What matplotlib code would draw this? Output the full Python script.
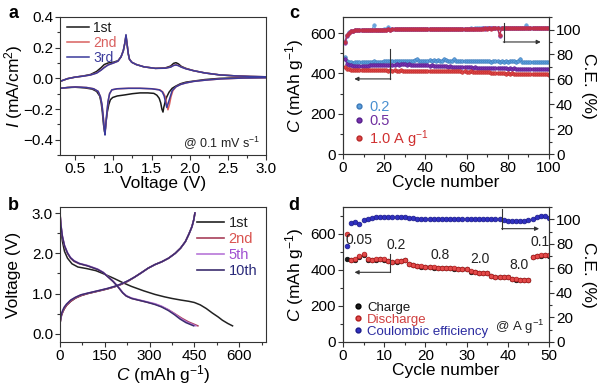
import matplotlib
matplotlib.use('Agg')
import matplotlib.pyplot as plt
from matplotlib.lines import Line2D
from matplotlib.ticker import MultipleLocator, FormatStrFormatter

plt.rcParams['font.family'] = ['Liberation Sans', 'DejaVu Sans']
plt.rcParams['mathtext.fontset'] = 'custom'
plt.rcParams['mathtext.rm'] = 'Liberation Sans'
plt.rcParams['mathtext.it'] = 'Liberation Sans:italic'
plt.rcParams['axes.linewidth'] = 0.8
plt.rcParams['axes.edgecolor'] = '#333333'

# ---------------- panel a: CV curves (cathodic sweep then anodic sweep) ----------------
cv1_v = [3.0, 2.7, 2.4, 2.2, 2.05, 1.95, 1.88, 1.82, 1.77, 1.73, 1.70, 1.68, 1.66, 1.65, 1.635,
         1.62, 1.60, 1.57, 1.53, 1.45, 1.35, 1.25, 1.15, 1.05, 0.99, 0.96, 0.94, 0.92, 0.905,
         0.895, 0.885, 0.87, 0.855, 0.84, 0.82, 0.78, 0.72, 0.62, 0.5, 0.4, 0.3, 0.25]
cv1_i = [0.006, 0.004, 0.0, -0.008, -0.018, -0.025, -0.035, -0.05, -0.065, -0.09, -0.12, -0.15,
         -0.19, -0.22, -0.2, -0.16, -0.13, -0.11, -0.098, -0.095, -0.095, -0.1, -0.108, -0.115,
         -0.125, -0.14, -0.17, -0.22, -0.28, -0.33, -0.35, -0.3, -0.22, -0.16, -0.115, -0.085,
         -0.07, -0.062, -0.058, -0.06, -0.065, -0.07]
cv2_v = [3.0, 2.7, 2.4, 2.2, 2.05, 1.95, 1.88, 1.82, 1.78, 1.755, 1.735, 1.715, 1.70, 1.68,
         1.65, 1.61, 1.5, 1.35, 1.2, 1.05, 0.98, 0.95, 0.93, 0.915, 0.90, 0.89, 0.88, 0.865, 0.85,
         0.83, 0.8, 0.74, 0.65, 0.5, 0.4, 0.3, 0.25]
cv2_i = [0.004, 0.002, -0.004, -0.012, -0.02, -0.03, -0.04, -0.055, -0.08, -0.12, -0.17, -0.205,
         -0.17, -0.12, -0.09, -0.075, -0.068, -0.065, -0.065, -0.068, -0.075, -0.1, -0.15, -0.22,
         -0.3, -0.36, -0.32, -0.24, -0.17, -0.12, -0.085, -0.068, -0.06, -0.056, -0.06, -0.065, -0.07]
cv3_v = [3.0, 2.7, 2.4, 2.2, 2.05, 1.95, 1.88, 1.82, 1.77, 1.745, 1.72, 1.70, 1.685, 1.665,
         1.64, 1.60, 1.5, 1.35, 1.2, 1.05, 0.98, 0.95, 0.93, 0.915, 0.90, 0.89, 0.88, 0.865, 0.85,
         0.83, 0.8, 0.74, 0.65, 0.5, 0.4, 0.3, 0.25]
cv3_i = [0.004, 0.002, -0.004, -0.012, -0.02, -0.03, -0.04, -0.055, -0.08, -0.12, -0.16, -0.19,
         -0.16, -0.115, -0.088, -0.075, -0.068, -0.065, -0.065, -0.068, -0.075, -0.1, -0.15, -0.22,
         -0.3, -0.37, -0.33, -0.24, -0.17, -0.12, -0.085, -0.068, -0.06, -0.056, -0.06, -0.065, -0.07]
an_v = [0.25, 0.3, 0.4, 0.5, 0.6, 0.7, 0.78, 0.84, 0.88, 0.93, 1.0, 1.06, 1.1, 1.13, 1.15, 1.165,
        1.18, 1.195, 1.21, 1.24, 1.3, 1.4, 1.55, 1.68, 1.75, 1.79, 1.82, 1.85, 1.89, 1.95, 2.05,
        2.2, 2.4, 2.6, 2.8, 3.0]
an1_i = [-0.03, -0.02, -0.002, 0.008, 0.015, 0.025, 0.045, 0.07, 0.09, 0.1, 0.105, 0.115, 0.14,
         0.18, 0.23, 0.275, 0.22, 0.16, 0.125, 0.105, 0.09, 0.075, 0.065, 0.068, 0.08, 0.098,
         0.102, 0.095, 0.078, 0.065, 0.05, 0.035, 0.022, 0.016, 0.012, 0.01]
an2_i = [-0.03, -0.02, -0.002, 0.008, 0.014, 0.022, 0.035, 0.055, 0.072, 0.088, 0.1, 0.112, 0.14,
         0.18, 0.23, 0.28, 0.22, 0.16, 0.125, 0.105, 0.09, 0.075, 0.065, 0.066, 0.074, 0.085,
         0.088, 0.084, 0.074, 0.063, 0.05, 0.035, 0.022, 0.016, 0.012, 0.01]
an3_i = [-0.03, -0.02, -0.002, 0.008, 0.014, 0.022, 0.034, 0.054, 0.07, 0.087, 0.1, 0.112, 0.14,
         0.18, 0.23, 0.285, 0.22, 0.16, 0.125, 0.105, 0.09, 0.075, 0.065, 0.066, 0.073, 0.084,
         0.087, 0.083, 0.073, 0.062, 0.05, 0.035, 0.022, 0.016, 0.012, 0.01]

# ---------------- panel b: charge/discharge profiles ----------------
b1_dis_c = [0, 3, 8, 15, 25, 40, 60, 90, 120, 150, 183, 211, 239, 280, 318, 350, 375, 405, 431,
            450, 470, 490, 510, 530, 544, 562, 578]
b1_dis_v = [3.0, 2.6, 2.3, 2.05, 1.88, 1.74, 1.66, 1.62, 1.57, 1.48, 1.37, 1.27, 1.18, 1.07, 0.98,
            0.92, 0.88, 0.84, 0.81, 0.78, 0.72, 0.63, 0.52, 0.42, 0.34, 0.26, 0.2]
b2_dis_c = [0, 3, 8, 15, 25, 35, 47, 65, 92, 126, 145, 160, 178, 194, 210, 222, 240, 262, 290,
            318, 340, 363, 385, 408, 430, 462]
b2_dis_v = [3.0, 2.7, 2.41, 2.18, 2.0, 1.88, 1.8, 1.74, 1.69, 1.6, 1.52, 1.42, 1.3, 1.17, 1.02,
            0.94, 0.88, 0.84, 0.79, 0.74, 0.68, 0.6, 0.5, 0.39, 0.3, 0.2]
b5_dis_c = [0, 3, 8, 15, 25, 35, 47, 65, 92, 126, 145, 160, 178, 194, 210, 222, 240, 262, 290,
            318, 340, 363, 385, 405, 426, 455]
b5_dis_v = [3.0, 2.72, 2.43, 2.2, 2.02, 1.9, 1.82, 1.75, 1.7, 1.61, 1.53, 1.43, 1.31, 1.18, 1.03,
            0.95, 0.89, 0.85, 0.8, 0.75, 0.69, 0.6, 0.49, 0.38, 0.29, 0.2]
b10_dis_c = [0, 3, 8, 15, 25, 35, 47, 65, 92, 126, 145, 160, 178, 194, 210, 222, 240, 262, 290,
             318, 340, 363, 383, 402, 422, 448]
b10_dis_v = [3.0, 2.7, 2.42, 2.19, 2.01, 1.89, 1.81, 1.745, 1.69, 1.6, 1.52, 1.42, 1.3, 1.17,
             1.02, 0.94, 0.88, 0.84, 0.79, 0.73, 0.67, 0.58, 0.48, 0.37, 0.28, 0.2]
b_ch_c = [0, 2, 5, 9, 14, 22, 36, 52, 70, 92, 115, 138, 160, 183, 205, 228, 250, 273, 295, 318,
          341, 364, 386, 404, 420, 432, 442, 448, 452]
b_ch_v = [0.25, 0.38, 0.5, 0.58, 0.66, 0.74, 0.84, 0.91, 0.97, 1.01, 1.05, 1.09, 1.13, 1.18, 1.24,
          1.32, 1.41, 1.52, 1.63, 1.72, 1.79, 1.88, 2.0, 2.13, 2.29, 2.48, 2.66, 2.83, 3.0]
b_ch2_v = [0.25, 0.35, 0.46, 0.54, 0.62, 0.71, 0.81, 0.89, 0.95, 1.0, 1.04, 1.08, 1.12, 1.17, 1.23,
           1.31, 1.41, 1.52, 1.63, 1.72, 1.79, 1.88, 2.0, 2.13, 2.29, 2.48, 2.66, 2.83, 3.0]

# ---------------- panel c: long cycling ----------------
cycles_c = list(range(1, 101))
cap_02 = [482, 462, 457, 455, 454, 455, 455, 456, 456, 457,
          456, 457, 458, 457, 460, 458, 458, 459, 459, 460,
          460, 462, 460, 461, 461, 462, 461, 462, 463, 462,
          463, 462, 463, 464, 465, 472, 464, 463, 464, 463,
          464, 465, 464, 465, 464, 465, 464, 463, 473, 465,
          464, 463, 464, 472, 462, 463, 464, 463, 462, 463,
          462, 461, 462, 461, 462, 461, 460, 461, 460, 461,
          460, 459, 460, 461, 460, 459, 460, 459, 460, 459,
          460, 461, 460, 459, 460, 470, 459, 458, 459, 458,
          459, 458, 457, 458, 457, 458, 457, 456, 457, 456]
cap_05 = [472, 448, 442, 440, 438, 438, 437, 438, 438, 439,
          439, 439, 440, 440, 441, 441, 440, 441, 442, 441,
          442, 443, 442, 443, 444, 445, 444, 445, 446, 445,
          444, 445, 444, 443, 444, 443, 442, 441, 442, 441,
          440, 439, 440, 438, 437, 438, 436, 437, 435, 436,
          434, 435, 434, 433, 434, 432, 433, 431, 432, 430,
          431, 430, 429, 430, 429, 428, 429, 428, 427, 428,
          427, 426, 427, 426, 425, 426, 425, 426, 425, 424,
          425, 424, 425, 424, 423, 424, 423, 424, 423, 422,
          423, 422, 423, 422, 421, 422, 421, 422, 421, 420]
cap_10 = [432, 423, 420, 419, 418, 418, 417, 418, 417, 417,
          416, 417, 416, 416, 415, 416, 415, 416, 415, 415,
          415, 414, 415, 414, 415, 414, 414, 415, 414, 414,
          413, 414, 413, 414, 413, 413, 412, 413, 412, 413,
          412, 413, 412, 412, 411, 412, 411, 412, 411, 411,
          411, 410, 411, 410, 410, 411, 410, 409, 410, 409,
          409, 410, 409, 408, 409, 408, 407, 408, 407, 406,
          405, 404, 403, 402, 401, 400, 401, 400, 399, 400,
          399, 400, 399, 398, 399, 398, 397, 398, 397, 398,
          397, 396, 397, 396, 395, 396, 395, 396, 395, 394]
ce_02 = [91, 96, 98, 98.8, 99.2, 99.4, 99.5, 99.6, 99.7, 99.7,
         99.8, 99.8, 99.9, 99.9, 103.5, 99.9, 100, 100, 100, 100.1,
         100.1, 102, 100.1, 100.2, 100.2, 100.2, 100.3, 100.2, 100.3, 100.3,
         100.3, 100.4, 100.3, 100.4, 100.4, 100.4, 100.5, 100.4, 100.5, 100.5,
         100.5, 100.5, 100.6, 100.5, 100.6, 100.6, 100.6, 100.6, 100.7, 100.6,
         100.7, 100.7, 100.7, 100.7, 100.8, 100.7, 100.8, 100.8, 100.8, 100.8,
         100.8, 100.9, 100.8, 100.9, 100.9, 100.9, 100.9, 101, 100.9, 101,
         101, 101, 101, 101.1, 101, 101.1, 101.1, 101.1, 101.1, 101.2,
         101.1, 101.2, 101.2, 101.2, 101.2, 101.3, 101.2, 101.3, 103.5, 101.3,
         101.3, 101.3, 101.4, 101.3, 101.4, 101.4, 101.4, 101.4, 101.5, 101.4]
ce_05 = [89, 95, 97.5, 98.5, 99, 99.3, 99.4, 99.5, 99.6, 99.6,
         99.7, 99.7, 99.8, 99.8, 99.8, 99.9, 99.9, 100, 99.9, 100,
         100, 100.1, 100, 100.1, 100.1, 100.1, 100.2, 100.1, 100.2, 100.2,
         100.2, 100.3, 100.2, 100.3, 100.3, 100.3, 100.4, 100.3, 100.4, 100.4,
         100.4, 100.4, 100.5, 100.4, 100.5, 100.5, 100.5, 100.5, 100.6, 100.5,
         100.6, 100.6, 100.6, 100.6, 100.7, 100.6, 100.7, 100.7, 100.7, 100.7,
         100.7, 100.8, 100.7, 100.8, 100.8, 100.8, 100.8, 100.9, 100.8, 100.9,
         100.9, 100.9, 100.9, 101, 100.9, 95, 101, 101, 101, 101.1,
         101, 101.1, 101.1, 101.1, 101.1, 101.2, 101.1, 101.2, 101.2, 101.2,
         101.2, 101.2, 101.3, 101.2, 101.3, 101.3, 101.3, 101.3, 101.4, 101.3]
ce_10 = [90, 95.5, 97.5, 98.5, 99, 99.3, 99.5, 99.6, 99.6, 99.7,
         99.7, 99.8, 99.8, 99.9, 99.8, 99.9, 100, 99.9, 100, 100,
         100, 100.1, 100, 100.1, 100.2, 100.1, 100.2, 100.2, 100.3, 100.2,
         100.3, 100.2, 100.3, 100.3, 100.4, 100.3, 100.4, 100.3, 100.4, 100.4,
         100.4, 100.5, 100.4, 100.5, 100.5, 100.4, 100.5, 100.5, 100.6, 100.5,
         100.6, 100.5, 100.6, 100.6, 100.7, 100.6, 100.7, 100.6, 100.7, 100.7,
         100.7, 100.8, 100.7, 100.8, 100.8, 100.7, 100.8, 100.8, 100.9, 100.8,
         100.9, 100.8, 100.9, 100.9, 101, 96, 100.9, 101, 101, 100.9,
         101, 101.1, 101, 101.1, 101, 101.1, 101.1, 101.2, 101.1, 101.2,
         101.2, 101.1, 101.2, 101.2, 101.3, 101.2, 101.3, 101.2, 101.3, 101.3]

# ---------------- panel d: rate capability ----------------
cycles_d = list(range(1, 51))
charge_d = [462, 455, 458, 470, 482, 458, 456, 458, 460, 458,
            448, 446, 447, 448, 453, 432, 426, 420, 419, 417,
            414, 413, 412, 412, 411, 410, 408, 407, 406, 405,
            390, 386, 384, 382, 381, 364, 361, 360, 360, 359,
            350, 347, 346, 346, 345, 470, 478, 480, 481, 479]
discharge_d = [600, 458, 462, 478, 488, 460, 457, 459, 461, 459,
               450, 447, 448, 449, 455, 433, 427, 421, 420, 418,
               415, 414, 413, 412, 412, 411, 409, 408, 407, 406,
               392, 387, 385, 383, 382, 366, 362, 361, 361, 360,
               352, 348, 347, 347, 346, 472, 480, 483, 482, 481]
ce_d = [78, 97, 98, 96.5, 99, 100.5, 101, 101.5, 101.5, 102,
        101.5, 101.5, 101.5, 101.5, 101.5, 101, 101, 100.5, 100.5, 100,
        100, 100, 100, 100, 100, 100, 100, 100, 100, 100,
        100, 100, 100, 100, 100.3, 100.3, 100.3, 100.5, 99, 98.5,
        98.2, 98.2, 98.5, 98.8, 99.2, 100.5, 101.8, 102.8, 102.5, 100.8]
rate_labels = ['0.05', '0.2', '0.8', '2.0', '8.0', '0.1']
rate_label_x = [3.8, 13, 23.5, 33.2, 42.7, 47.8]
rate_label_y = [566, 538, 481, 462, 425, 557]

fig = plt.figure(figsize=(6, 3.88), dpi=100)
ax_a = fig.add_axes([0.1, 0.6005, 0.3433, 0.3557])
ax_b = fig.add_axes([0.1, 0.1186, 0.3433, 0.348])
ax_c = fig.add_axes([0.5717, 0.603, 0.3433, 0.353])
ax_d = fig.add_axes([0.5717, 0.1186, 0.3433, 0.348])

TICK = 11
LAB = 12.5
tick_kw = dict(direction='out', labelsize=TICK, width=0.8, color='#333333', pad=1.5)

def style(ax, twin=False):
    ax.tick_params(which='major', length=3.5, **tick_kw)
    ax.tick_params(which='minor', length=2, **tick_kw)
    if not twin:
        ax.tick_params(which='both', top=False, right=False)

# ---- a ----
cv_colors = ['#1a1a1a', '#d9605f', '#3b3b9b']
ax_a.plot(cv1_v + an_v, cv1_i + an1_i, color=cv_colors[0], lw=1.1)
ax_a.plot(cv2_v + an_v, cv2_i + an2_i, color=cv_colors[1], lw=1.1)
ax_a.plot(cv3_v + an_v, cv3_i + an3_i, color=cv_colors[2], lw=1.1)
ax_a.set_xlim(0.3, 3.0)
ax_a.set_ylim(-0.5, 0.4)
ax_a.xaxis.set_major_locator(MultipleLocator(0.5))
ax_a.xaxis.set_minor_locator(MultipleLocator(0.25))
ax_a.yaxis.set_major_locator(MultipleLocator(0.2))
ax_a.yaxis.set_minor_locator(MultipleLocator(0.1))
ax_a.set_xlabel('Voltage (V)', fontsize=LAB, labelpad=0)
ax_a.set_ylabel(r'$I$ (mA/cm$^2$)', fontsize=LAB, va='center')
ax_a.yaxis.set_label_coords(-0.225, 0.5)
style(ax_a)
ax_a.legend(['1st', '2nd', '3rd'], loc='upper left', fontsize=10, frameon=False,
            handlelength=1.6, handletextpad=0.3, labelspacing=0.05,
            borderaxespad=0.1, bbox_to_anchor=(0, 1.02),
            labelcolor=['#1a1a1a', '#d9605f', '#3b3b9b'])
ax_a.text(0.97, 0.025, r'@ 0.1 mV s$^{-1}$', transform=ax_a.transAxes, ha='right',
          va='bottom', fontsize=9, color='#222222')

# ---- b ----
ax_b.plot(b1_dis_c, b1_dis_v, color='#222222', lw=1.1)
ax_b.plot(b_ch_c, b_ch2_v, color='#222222', lw=1.1)
ax_b.plot(b2_dis_c, b2_dis_v, color='#a8405a', lw=1.1)
ax_b.plot(b_ch_c, b_ch2_v, color='#a8405a', lw=1.1)
ax_b.plot(b5_dis_c, b5_dis_v, color='#b777d8', lw=1.1)
ax_b.plot(b_ch_c, b_ch_v, color='#b777d8', lw=1.1)
ax_b.plot(b10_dis_c, b10_dis_v, color='#3c2d6e', lw=1.1)
ax_b.plot(b_ch_c, b_ch_v, color='#3c2d6e', lw=1.1)
ax_b.set_xlim(0, 690)
ax_b.set_ylim(-0.2, 3.15)
ax_b.xaxis.set_major_locator(MultipleLocator(150))
ax_b.xaxis.set_minor_locator(MultipleLocator(75))
ax_b.yaxis.set_major_locator(MultipleLocator(1.0))
ax_b.yaxis.set_minor_locator(MultipleLocator(0.5))
ax_b.yaxis.set_major_formatter(FormatStrFormatter('%.1f'))
ax_b.set_xlabel(r'$C$ (mAh g$^{-1}$)', fontsize=LAB, labelpad=0)
ax_b.set_ylabel('Voltage (V)', fontsize=LAB, va='center')
ax_b.yaxis.set_label_coords(-0.225, 0.5)
style(ax_b)
b_handles = [Line2D([], [], color=c, lw=1.2) for c in ['#222222', '#a8405a', '#b777d8', '#3c2d6e']]
ax_b.legend(b_handles, ['1st', '2nd', '5th', '10th'], loc='upper right', fontsize=10.5,
            frameon=False, handlelength=1.9, handletextpad=0.3, labelspacing=0.15,
            borderaxespad=0.2, labelcolor=['#222222', '#d9534f', '#a050d0', '#2a2a7a'])

# ---- c ----
c_cols = ['#5b9fdc', '#7a2fb0', '#e04545']
c_edge = ['#3a78b8', '#55208a', '#b82828']
ce_cols = ['#6aa4dd', '#8040b0', '#c0304a']
axc2 = ax_c.twinx()
for ys, fc, ec in zip([cap_02, cap_05, cap_10], c_cols, c_edge):
    ax_c.plot(cycles_c, ys, '-o', color=fc, mec=ec, ms=2.6, mew=0.4, lw=0.9)
for ys, fc in zip([ce_02, ce_05, ce_10], ce_cols):
    axc2.plot(cycles_c, ys, '-o', color=fc, mec=fc, ms=2.6, mew=0.4, lw=0.9)
ax_c.set_xlim(0, 100)
ax_c.set_ylim(0, 680)
axc2.set_ylim(0, 110)
ax_c.xaxis.set_major_locator(MultipleLocator(20))
ax_c.xaxis.set_minor_locator(MultipleLocator(10))
ax_c.yaxis.set_major_locator(MultipleLocator(200))
ax_c.yaxis.set_minor_locator(MultipleLocator(100))
axc2.yaxis.set_major_locator(MultipleLocator(20))
axc2.yaxis.set_minor_locator(MultipleLocator(10))
ax_c.set_xlabel('Cycle number', fontsize=LAB, labelpad=0)
ax_c.set_ylabel(r'$C$ (mAh g$^{-1}$)', fontsize=LAB, va='center')
ax_c.yaxis.set_label_coords(-0.235, 0.5)
axc2.set_ylabel('C.E. (%)', fontsize=LAB, rotation=270, va='center')
axc2.yaxis.set_label_coords(1.19, 0.5)
style(ax_c)
ax_c.tick_params(which='both', right=False)
axc2.tick_params(which='major', length=3.5, **tick_kw)
axc2.tick_params(which='minor', length=2, **tick_kw)
c_handles = [Line2D([], [], ls='none', marker='o', color=fc, mec=ec, ms=3.5)
             for fc, ec in zip(c_cols, c_edge)]
ax_c.legend(c_handles, ['0.2', '0.5', r'1.0 A g$^{-1}$'], loc='lower left', fontsize=10.5,
            frameon=False, handlelength=0.8, handletextpad=0.3, labelspacing=0.0,
            borderaxespad=0.0, bbox_to_anchor=(0.02, -0.01),
            labelcolor=['#4a90d0', '#7030a0', '#d03030'])
ax_c.plot([23, 23], [520, 373], color='#333333', lw=0.8)
ax_c.annotate('', xy=(5.5, 373), xytext=(23.2, 373),
              arrowprops=dict(arrowstyle='-|>', color='#333333', lw=0.8,
                              mutation_scale=6, shrinkA=0, shrinkB=0))
axc2.plot([78, 78], [105, 90], color='#333333', lw=0.8)
axc2.annotate('', xy=(96, 90), xytext=(77.8, 90),
              arrowprops=dict(arrowstyle='-|>', color='#333333', lw=0.8,
                              mutation_scale=6, shrinkA=0, shrinkB=0))

# ---- d ----
axd2 = ax_d.twinx()
ax_d.plot(cycles_d, charge_d, 'o', color='#1a1a1a', mec='#000000', ms=3.4, mew=0.4)
ax_d.plot(cycles_d, discharge_d, 'o', color='#e24a4a', mec='#b01c1c', ms=3.4, mew=0.5)
axd2.plot(cycles_d, ce_d, 'o', color='#3030c0', mec='#1a1a8a', ms=3.4, mew=0.5)
ax_d.set_xlim(0, 50)
ax_d.set_ylim(0, 750)
axd2.set_ylim(0, 110)
ax_d.xaxis.set_major_locator(MultipleLocator(10))
ax_d.xaxis.set_minor_locator(MultipleLocator(5))
ax_d.yaxis.set_major_locator(MultipleLocator(200))
ax_d.yaxis.set_minor_locator(MultipleLocator(100))
axd2.yaxis.set_major_locator(MultipleLocator(20))
axd2.yaxis.set_minor_locator(MultipleLocator(10))
ax_d.set_xlabel('Cycle number', fontsize=LAB, labelpad=0)
ax_d.set_ylabel(r'$C$ (mAh g$^{-1}$)', fontsize=LAB, va='center')
ax_d.yaxis.set_label_coords(-0.235, 0.5)
axd2.set_ylabel('C.E. (%)', fontsize=LAB, rotation=270, va='center')
axd2.yaxis.set_label_coords(1.19, 0.5)
style(ax_d)
ax_d.tick_params(which='both', right=False)
axd2.tick_params(which='major', length=3.5, **tick_kw)
axd2.tick_params(which='minor', length=2, **tick_kw)
for lab, x, y in zip(rate_labels, rate_label_x, rate_label_y):
    ax_d.text(x, y, lab, ha='center', va='center', fontsize=10, color='#222222')
d_handles = [Line2D([], [], ls='none', marker='o', color=fc, mec=ec, ms=3.5)
             for fc, ec in zip(['#1a1a1a', '#e24a4a', '#3030c0'], ['#000000', '#b01c1c', '#1a1a8a'])]
ax_d.legend(d_handles, ['Charge', 'Discharge', 'Coulombic efficiency'], loc='lower left',
            fontsize=9.5, frameon=False, handlelength=0.8, handletextpad=0.3,
            labelspacing=0.0, borderaxespad=0.0, bbox_to_anchor=(0.02, -0.01),
            labelcolor=['#1a1a1a', '#d04040', '#2a2aa0'])
ax_d.text(0.975, 0.045, r'@ A g$^{-1}$', transform=ax_d.transAxes, ha='right', va='bottom',
          fontsize=9.5, color='#222222')
ax_d.plot([11.3, 11.3], [491, 387], color='#333333', lw=0.8)
ax_d.annotate('', xy=(2.8, 387), xytext=(11.4, 387),
              arrowprops=dict(arrowstyle='-|>', color='#333333', lw=0.8,
                              mutation_scale=6, shrinkA=0, shrinkB=0))
axd2.plot([38.6, 38.6], [108.5, 92.3], color='#333333', lw=0.8)
axd2.annotate('', xy=(47.6, 92.3), xytext=(38.5, 92.3),
              arrowprops=dict(arrowstyle='-|>', color='#333333', lw=0.8,
                              mutation_scale=6, shrinkA=0, shrinkB=0))

for lab, x, y in [('a', 0.022, 0.965), ('b', 0.022, 0.47), ('c', 0.49, 0.965), ('d', 0.49, 0.47)]:
    fig.text(x, y, lab, fontsize=13, fontweight='bold', ha='center', va='center')

fig.savefig('out.png', dpi=100)
